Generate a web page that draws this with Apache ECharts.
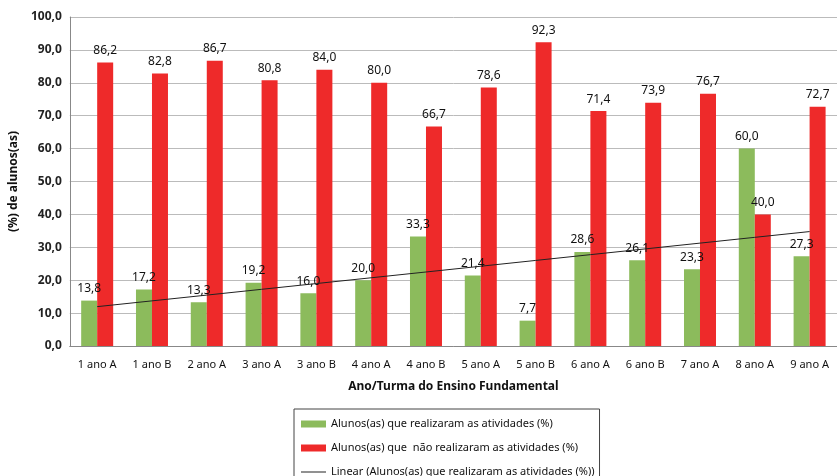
<!DOCTYPE html>
<html>
<head>
<meta charset="utf-8">
<script src="https://cdn.jsdelivr.net/npm/echarts@6/dist/echarts.min.js"></script>
<style>
  html, body { margin: 0; padding: 0; background: #fff; }
  #chart { width: 837px; height: 476px; }
</style>
</head>
<body>
<div id="chart"></div>
<script>
const categories = ['1 ano A', '1 ano B', '2 ano A', '3 ano A', '3 ano B', '4 ano A', '4 ano B',
  '5 ano A', '5 ano B', '6 ano A', '6 ano B', '7 ano A', '8 ano A', '9 ano A']
const realizaram = [13.8, 17.2, 13.3, 19.2, 16.0, 20.0, 33.3, 21.4, 7.7, 28.6, 26.1, 23.3, 60.0, 27.3]
const naoRealizaram = [86.2, 82.8, 86.7, 80.8, 84.0, 80.0, 66.7, 78.6, 92.3, 71.4, 73.9, 76.7, 40.0, 72.7]

const NAMES = {
  green: 'Alunos(as) que realizaram as atividades (%)',
  red: 'Alunos(as) que  não realizaram as atividades (%)',
  trend: 'Linear (Alunos(as) que realizaram as atividades (%))'
}

// linha de tendência linear (mínimos quadrados), como no Excel
function linearTrend(ys) {
  const n = ys.length
  const xm = (n + 1) / 2
  const ym = ys.reduce((a, b) => a + b, 0) / n
  let sxy = 0, sxx = 0
  ys.forEach((y, i) => {
    sxy += (i + 1 - xm) * (y - ym)
    sxx += (i + 1 - xm) * (i + 1 - xm)
  })
  const b = sxy / sxx
  return ys.map((_, i) => +(ym + b * (i + 1 - xm)).toFixed(3))
}

const fmt = (v) => v.toFixed(1).replace('.', ',')
const FONT = 'Noto Sans'

const chart = echarts.init(document.getElementById('chart'))
chart.setOption({
  animation: false,
  textStyle: { fontFamily: FONT },
  grid: { left: 68, top: 17, right: 0, bottom: 130 },
  legend: {
    orient: 'vertical',
    left: 294,
    top: 409,
    height: 120,
    borderColor: '#444',
    borderWidth: 1,
    padding: [7, 5, 6, 7],
    itemGap: 8,
    itemWidth: 25,
    itemHeight: 7,
    textStyle: { fontSize: 11, color: '#111', fontFamily: FONT, lineHeight: 16 },
    data: [
      { name: NAMES.green, icon: 'rect' },
      { name: NAMES.red, icon: 'rect' },
      { name: NAMES.trend, icon: 'path://M0,0 L25,0 L25,1 L0,1 Z' }
    ]
  },
  xAxis: {
    type: 'category',
    data: categories,
    name: 'Ano/Turma do Ensino Fundamental',
    nameLocation: 'middle',
    nameGap: 35,
    nameTextStyle: { fontWeight: 'bold', fontSize: 12, color: '#111' },
    axisLine: { lineStyle: { color: '#888' } },
    axisTick: { show: false },
    axisLabel: { interval: 0, fontSize: 11, color: '#111', margin: 13 }
  },
  yAxis: {
    type: 'value',
    min: 0,
    max: 100,
    interval: 10,
    name: '(%) de alunos(as)',
    nameLocation: 'middle',
    nameGap: 48,
    nameTextStyle: { fontWeight: 'bold', fontSize: 12, color: '#111' },
    axisLine: { show: true, lineStyle: { color: '#888' } },
    axisLabel: { fontSize: 12, fontWeight: 'bold', color: '#222', formatter: (v) => fmt(v) },
    splitLine: { lineStyle: { color: '#bbb' } }
  },
  series: [
    {
      name: NAMES.green,
      type: 'bar',
      data: realizaram,
      barWidth: 16,
      barGap: '0%',
      itemStyle: { color: '#8cbb5c' },
      label: { show: true, position: 'top', distance: 6, fontSize: 12, color: '#111', formatter: (p) => fmt(p.value) }
    },
    {
      name: NAMES.red,
      type: 'bar',
      data: naoRealizaram,
      barWidth: 16,
      barGap: '0%',
      itemStyle: { color: '#ee2a2a' },
      label: { show: true, position: 'top', distance: 6, fontSize: 12, color: '#111', formatter: (p) => fmt(p.value) }
    },
    {
      name: NAMES.trend,
      type: 'line',
      data: linearTrend(realizaram),
      symbol: 'none',
      z: 5,
      lineStyle: { color: '#222', width: 1 },
      itemStyle: { color: '#222' }
    }
  ]
})
</script>
</body>
</html>
